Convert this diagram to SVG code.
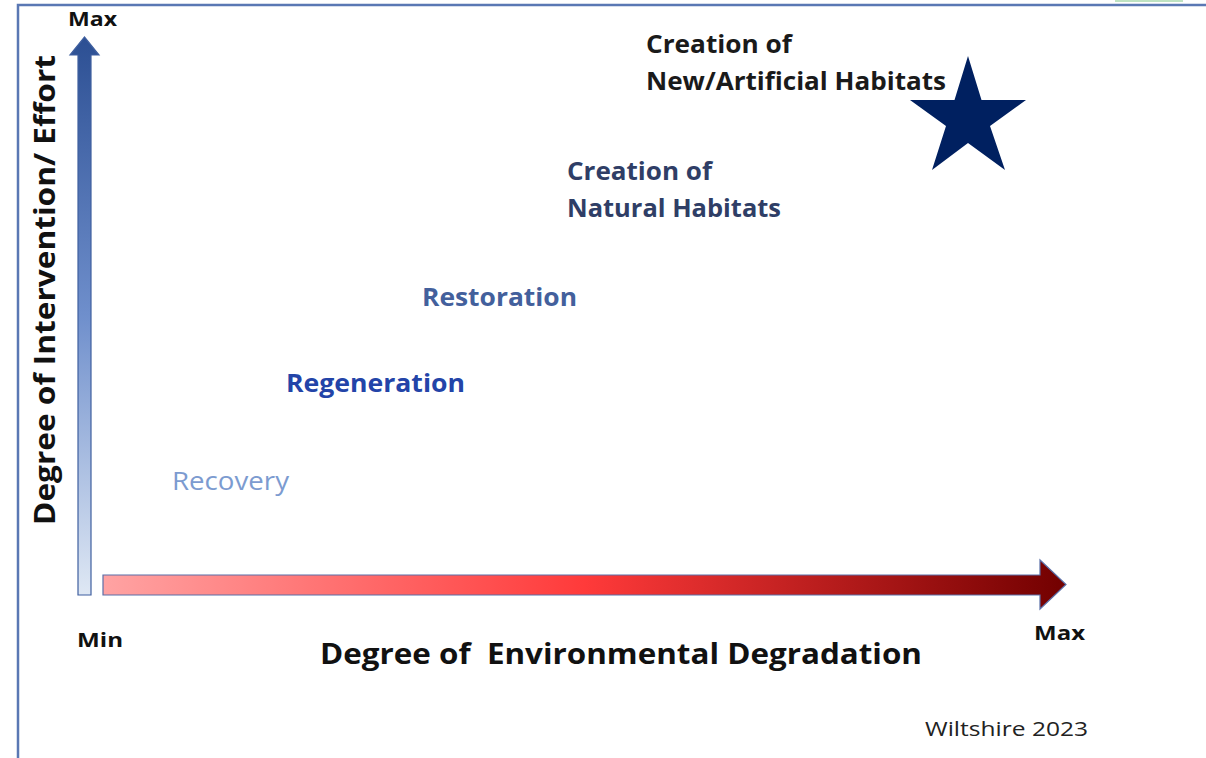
<svg xmlns="http://www.w3.org/2000/svg" width="1206" height="758" viewBox="0 0 1206 758">
<style>
.b{font-family:"Open Sans","Liberation Sans",sans-serif;font-weight:bold}
.r{font-family:"Open Sans","Liberation Sans",sans-serif}
</style>
<defs>
<linearGradient id="gv" x1="0" y1="1" x2="0" y2="0">
<stop offset="0" stop-color="#dfe8f4"/>
<stop offset="0.5" stop-color="#6f8fcc"/>
<stop offset="1" stop-color="#2c4f93"/>
</linearGradient>
<linearGradient id="gh" x1="0" y1="0" x2="1" y2="0">
<stop offset="0" stop-color="#ffa3a3"/>
<stop offset="0.5" stop-color="#ff3a3a"/>
<stop offset="1" stop-color="#720000"/>
</linearGradient>
</defs>
<rect width="1206" height="758" fill="#fff"/>
<g id="frame" fill="none" stroke="#5a78b4" stroke-width="2.5">
<path d="M18,758 V5 H1206"/>
</g>
<rect x="1115" y="0" width="68" height="2" fill="#bfe3c2"/>
<g id="axes">
<g id="y-axis">
<path d="M78,595 V55 H70 L84.5,37 L99,55 H91 V595 Z" fill="url(#gv)" stroke="#3f5f9f" stroke-width="1.2"/>
</g>
<g id="x-axis">
<path d="M103,575 H1040 V560 L1066,584.5 L1040,609 V595 H103 Z" fill="url(#gh)" stroke="#5a6fa8" stroke-width="1.2"/>
</g>
</g>
<g id="labels">
<text class="b" x="68" y="26" font-size="19" fill="#111" textLength="49" lengthAdjust="spacingAndGlyphs">Max</text>
<text class="b" x="77" y="647" font-size="19" fill="#111" textLength="46" lengthAdjust="spacingAndGlyphs">Min</text>
<text class="b" x="1034" y="640" font-size="19" fill="#111" textLength="51" lengthAdjust="spacingAndGlyphs">Max</text>
<text class="b" transform="translate(55,525) rotate(-90)" font-size="28" fill="#111" textLength="470" lengthAdjust="spacingAndGlyphs">Degree of Intervention/ Effort</text>
<text class="b" x="320" y="664" font-size="29" fill="#111" textLength="602" lengthAdjust="spacingAndGlyphs" xml:space="preserve">Degree of  Environmental Degradation</text>
<text class="r" x="925" y="736" font-size="20" fill="#222" textLength="163" lengthAdjust="spacingAndGlyphs">Wiltshire 2023</text>
</g>
<g id="node-artificial">
<text class="b" x="646" y="53" font-size="25" fill="#1a1a1a" textLength="146" lengthAdjust="spacingAndGlyphs">Creation of</text>
<text class="b" x="646" y="90" font-size="25" fill="#1a1a1a" textLength="300" lengthAdjust="spacingAndGlyphs">New/Artificial Habitats</text>
<polygon id="star" points="968,56 981.5,100 1026,100 990,126 1005,170 968,143 932,170 946,126 910,100 954.5,100" fill="#002060"/>
</g>
<g id="node-natural">
<text class="b" x="567" y="180" font-size="25" fill="#2f3e66" textLength="145" lengthAdjust="spacingAndGlyphs">Creation of</text>
<text class="b" x="567" y="217" font-size="25" fill="#2f3e66" textLength="214" lengthAdjust="spacingAndGlyphs">Natural Habitats</text>
</g>
<g id="node-restoration">
<text class="b" x="422" y="306" font-size="25" fill="#43609c" textLength="155" lengthAdjust="spacingAndGlyphs">Restoration</text>
</g>
<g id="node-regeneration">
<text class="b" x="286" y="392" font-size="25" fill="#2344a8" textLength="179" lengthAdjust="spacingAndGlyphs">Regeneration</text>
</g>
<g id="node-recovery">
<text class="r" x="172" y="490" font-size="25" fill="#7c9bd0" textLength="117" lengthAdjust="spacingAndGlyphs">Recovery</text>
</g>
</svg>
